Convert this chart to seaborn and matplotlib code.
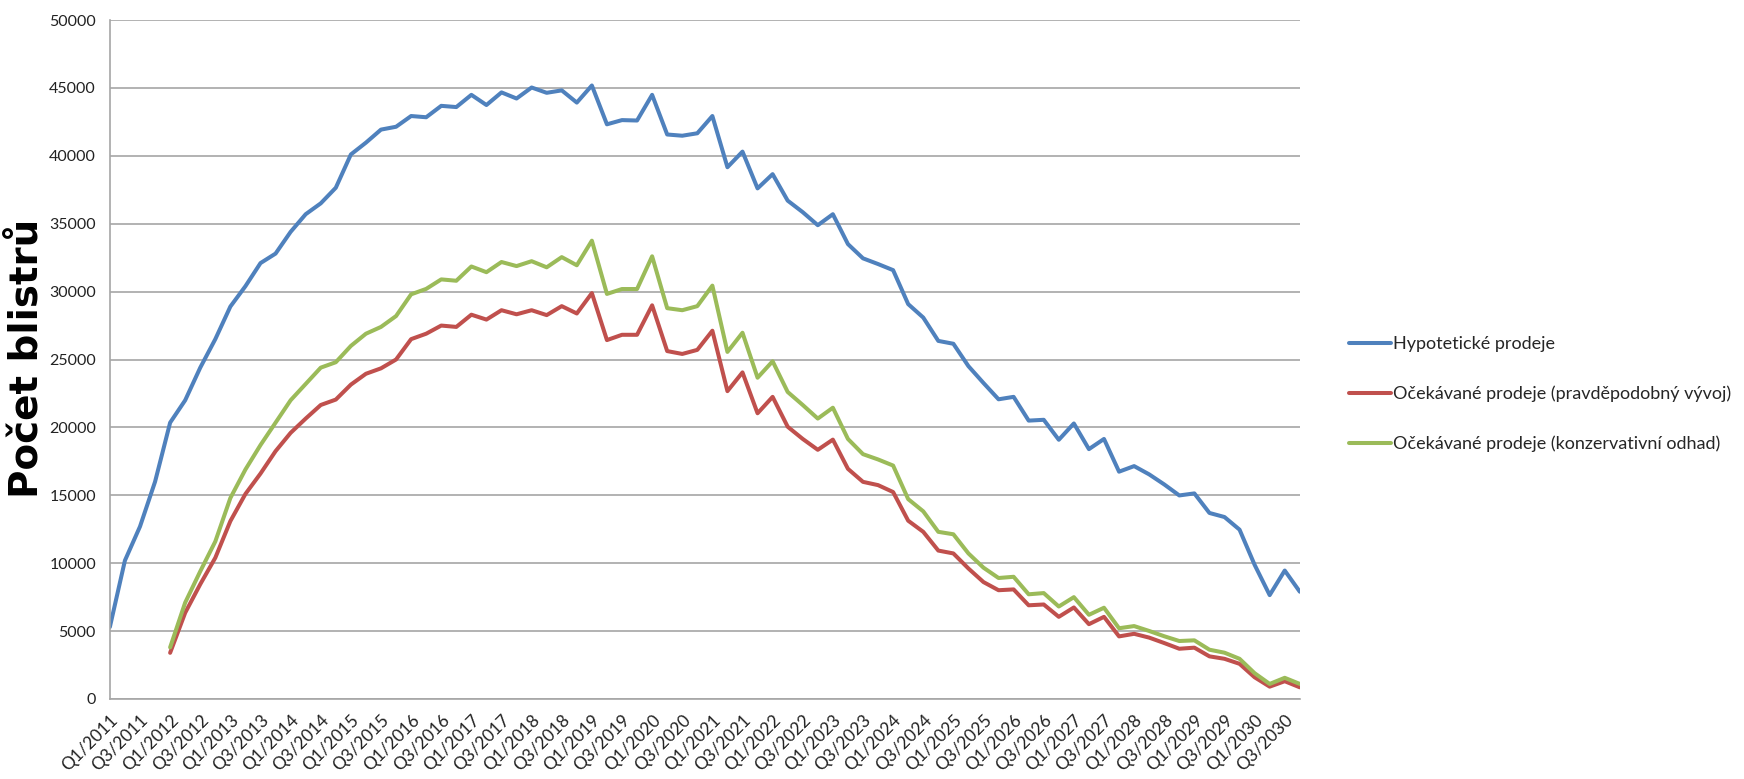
import numpy as np
import pandas as pd
import matplotlib
matplotlib.use("Agg")
import matplotlib.pyplot as plt
import seaborn as sns

# quarters Q1/2011 .. Q4/2030
quarters = [f"Q{q}/{y}" for y in range(2011, 2031) for q in range(1, 5)]

hypoteticke = [5300, 10200, 12700, 16000, 20350, 22000, 24400, 26500, 28900, 30400,
               32100, 32800, 34400, 35700, 36500, 37650, 40100, 40970, 41930, 42140,
               42930, 42840, 43680, 43590, 44490, 43740, 44670, 44220, 45030, 44640,
               44820, 43920, 45180, 42320, 42630, 42600, 44490, 41570, 41480, 41660,
               42930, 39160, 40310, 37600, 38650, 36700, 35850, 34890, 35700, 33500,
               32450, 32030, 31580, 29080, 28090, 26370, 26160, 24510, 23270, 22070,
               22250, 20500, 20560, 19090, 20290, 18400, 19150, 16740, 17150, 16540,
               15800, 14990, 15140, 13700, 13400, 12470, 9880, 7650, 9460, 7900]

pravdepodobny = [np.nan, np.nan, np.nan, np.nan,
                 3400, 6350, 8450, 10400, 13100, 15100, 16600, 18250, 19600, 20650,
                 21650, 22050, 23150, 23950, 24350, 25000, 26500, 26900, 27500, 27400,
                 28300, 27940, 28630, 28330, 28630, 28270, 28930, 28390, 29890, 26430,
                 26820, 26820, 28990, 25620, 25410, 25710, 27120, 22670, 24050, 21040,
                 22250, 20050, 19150, 18350, 19100, 16950, 15990, 15750, 15240, 13130,
                 12310, 10930, 10720, 9610, 8610, 8010, 8070, 6900, 6960, 6050,
                 6740, 5510, 6050, 4610, 4800, 4520, 4120, 3700, 3780, 3140,
                 2960, 2590, 1600, 910, 1310, 860]

konzervativni = [np.nan, np.nan, np.nan, np.nan,
                 3800, 7100, 9400, 11600, 14800, 16900, 18700, 20350, 22000, 23200,
                 24400, 24800, 26000, 26900, 27400, 28200, 29800, 30200, 30900, 30800,
                 31850, 31430, 32180, 31880, 32240, 31790, 32540, 31940, 33750, 29830,
                 30190, 30190, 32600, 28780, 28630, 28930, 30440, 25560, 26970, 23660,
                 24870, 22610, 21650, 20650, 21450, 19150, 18030, 17640, 17190, 14720,
                 13820, 12310, 12130, 10720, 9670, 8910, 9000, 7710, 7800, 6810,
                 7500, 6200, 6720, 5210, 5370, 5010, 4620, 4270, 4320, 3630,
                 3410, 2960, 1900, 1110, 1560, 1110]

series_names = ["Hypotetické prodeje",
                "Očekávané prodeje (pravděpodobný vývoj)",
                "Očekávané prodeje (konzervativní odhad)"]
colors = ["#4F81BD", "#C0504D", "#9BBB59"]

df = pd.DataFrame({
    "idx": range(len(quarters)),
    series_names[0]: hypoteticke,
    series_names[1]: pravdepodobny,
    series_names[2]: konzervativni,
})
long_df = df.melt(id_vars="idx", var_name="series", value_name="value").dropna()

sns.set_theme(style="white")
plt.rcParams["font.family"] = ["Lato", "DejaVu Sans"]

fig = plt.figure(figsize=(17.44, 7.79), dpi=100)
ax = fig.add_axes([0.063, 0.1027, 0.6823, 0.8716])

sns.lineplot(data=long_df, x="idx", y="value", hue="series", hue_order=series_names,
             palette=colors, linewidth=2.9, sort=False, estimator=None, ax=ax)

ax.set_xlim(0, len(quarters) - 1)
ax.set_ylim(0, 50000)
ax.set_yticks(range(0, 50001, 5000))
ax.set_yticklabels([str(v) for v in range(0, 50001, 5000)], fontsize=11.5, color="#222222")
ax.set_xticks(range(0, len(quarters), 2))
ax.set_xticklabels(quarters[::2], rotation=45, ha="right", rotation_mode="anchor",
                   fontsize=12.5, color="#222222")
ax.tick_params(axis="both", length=0)
ax.tick_params(axis="y", pad=10)
ax.tick_params(axis="x", pad=9)

ax.grid(axis="y", color="#a6a6a6", linewidth=1.2)
ax.set_axisbelow(True)
for side in ["top", "right"]:
    ax.spines[side].set_visible(False)
for side in ["left", "bottom"]:
    ax.spines[side].set_color("#a6a6a6")
    ax.spines[side].set_linewidth(1.2)

ax.set_xlabel("")
ax.set_ylabel("")
fig.text(0.016, 0.54, "Počet blistrů", rotation=90, ha="center", va="center",
         fontsize=28, fontweight="bold", color="black", family="DejaVu Sans")

handles, labels = ax.get_legend_handles_labels()
ax.legend(handles, labels, loc="center left", bbox_to_anchor=(0.7735, 0.494),
          bbox_transform=fig.transFigure, frameon=False, fontsize=13,
          handlelength=2.3, handletextpad=0.15, labelspacing=1.85,
          borderpad=0, borderaxespad=0)

fig.savefig("out.png", dpi=100)
